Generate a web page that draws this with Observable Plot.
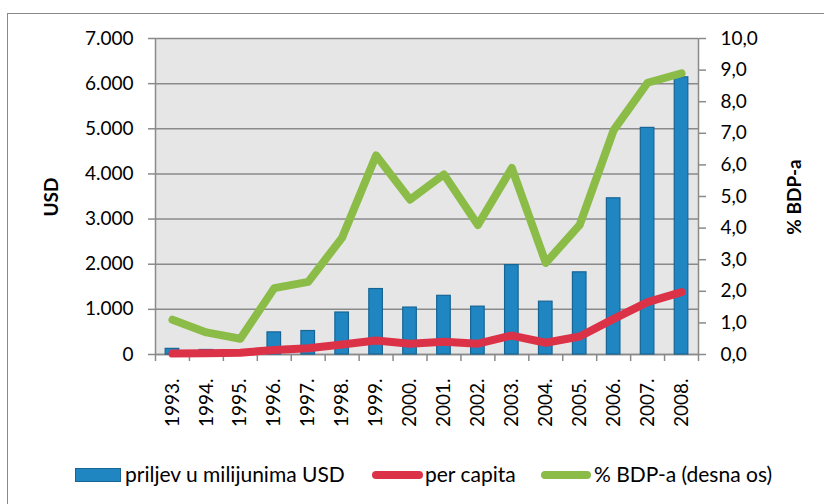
<!DOCTYPE html>
<html>
<head>
<meta charset="utf-8">
<script src="https://cdn.jsdelivr.net/npm/d3@7"></script>
<script src="https://cdn.jsdelivr.net/npm/@observablehq/plot@0.6"></script>
<style>
  html, body { margin: 0; padding: 0; background: #fff; overflow: hidden; }
  #wrap { position: relative; width: 824px; height: 504px; overflow: hidden; font-family: Lato, "Open Sans", sans-serif; color: #000; }
  #frame { position: absolute; left: 7px; top: 13px; width: 900px; height: 600px; border: 1.5px solid #8a8a8a; box-sizing: border-box; }
  #chart { position: absolute; left: 0; top: 0; }
  .ytitle { position: absolute; font-weight: bold; font-size: 19px; transform: translate(-50%, -50%) rotate(-90deg); white-space: nowrap; }
  .leg { position: absolute; font-size: 21px; white-space: nowrap; line-height: 1; }
</style>
</head>
<body>
<div id="wrap">
  <div id="frame"></div>
  <div id="chart"></div>
  <div class="ytitle" style="left:50px; top:197px;">USD</div>
  <div class="ytitle" style="left:793px; top:197px;">% BDP-a</div>
  <div id="legend"></div>
</div>
<script>
// ---- data ----
const years = [1993, 1994, 1995, 1996, 1997, 1998, 1999, 2000, 2001, 2002, 2003, 2004, 2005, 2006, 2007, 2008];
const inflow = [125, 100, 95, 490, 520, 930, 1450, 1040, 1300, 1060, 1980, 1170, 1820, 3460, 5020, 6140]; // priljev u milijunima USD
const perCapita = [20, 30, 40, 100, 140, 220, 310, 240, 280, 240, 420, 260, 400, 790, 1160, 1380];   // per capita (USD)
const pctGDP = [1.1, 0.7, 0.5, 2.1, 2.3, 3.7, 6.3, 4.9, 5.7, 4.1, 5.9, 2.9, 4.1, 7.1, 8.6, 8.9];        // % BDP-a (desna os)
const leftTicks = [0, 1000, 2000, 3000, 4000, 5000, 6000, 7000];
const rightTicks = [0, 1, 2, 3, 4, 5, 6, 7, 8, 9, 10];
const seriesNames = ["priljev u milijunima USD", "per capita", "% BDP-a (desna os)"];
const colors = {bar: "#1f86c1", barStroke: "#166595", red: "#dc3248", green: "#8bbc48"};

const data = years.map((y, i) => ({year: y, inflow: inflow[i], perCapita: perCapita[i], pct: pctGDP[i]}));
const k = 7000 / 10; // right axis scale factor (10,0 <-> 7.000)
const fmtLeft = d => d3.format(",")(d).replace(/,/g, ".");
const fmtRight = d => (d / k).toFixed(1).replace(".", ",");
const gridColor = "#8a8a8a";

const chart = Plot.plot({
  width: 824,
  height: 440,
  marginLeft: 155,
  marginRight: 126,
  marginTop: 38,
  marginBottom: 86,
  style: {fontFamily: "Lato, 'Open Sans', sans-serif", fontSize: "19px", color: "#000", background: "transparent"},
  x: {type: "linear", domain: [years[0] - 0.5, years[years.length - 1] + 0.5]},
  y: {domain: [0, 7000]},
  marks: [
    Plot.frame({fill: "#e6e6e6", stroke: "none"}),
    Plot.gridY(leftTicks, {stroke: gridColor, strokeOpacity: 1, strokeWidth: 1.5}),
    Plot.ruleX([years[0] - 0.5, years[years.length - 1] + 0.5], {stroke: gridColor, strokeWidth: 1.5}),
    Plot.ruleY([0], {stroke: gridColor, strokeWidth: 1.5}),
    Plot.axisY(leftTicks, {anchor: "left", tickFormat: fmtLeft, tickSize: 7, tickPadding: 15, stroke: gridColor, strokeWidth: 1.5, label: null}),
    Plot.axisY(rightTicks.map(d => d * k), {anchor: "right", tickFormat: fmtRight, tickSize: 7, tickPadding: 15, stroke: gridColor, strokeWidth: 1.5, label: null}),
    Plot.axisX(d3.range(years[0] - 0.5, years[years.length - 1] + 1, 1), {anchor: "bottom", tickSize: 7, tickFormat: () => "", stroke: gridColor, strokeWidth: 1.5, label: null}),
    Plot.axisX(years, {anchor: "bottom", tickSize: 0, tickPadding: 24, tickRotate: -90, tickFormat: d => d + ".", label: null}),
    Plot.rectY(data, {x1: d => d.year - 0.2, x2: d => d.year + 0.2, y: "inflow", fill: colors.bar, stroke: colors.barStroke, strokeWidth: 1.2}),
    Plot.lineY(data, {x: "year", y: "perCapita", stroke: colors.red, strokeWidth: 8, strokeLinecap: "round", strokeLinejoin: "round"}),
    Plot.lineY(data, {x: "year", y: d => d.pct * k, stroke: colors.green, strokeWidth: 8, strokeLinecap: "round", strokeLinejoin: "round"})
  ]
});
document.getElementById("chart").appendChild(chart);

// ---- legend ----
const legend = document.getElementById("legend");
const items = [
  {kind: "rect", x: 75, w: 46, tx: 125, label: seriesNames[0], color: colors.bar},
  {kind: "line", x: 372, w: 51, tx: 425, label: seriesNames[1], color: colors.red},
  {kind: "line", x: 541, w: 50, tx: 594, label: seriesNames[2], color: colors.green}
];
const cy = 475;
for (const it of items) {
  const sw = document.createElement("div");
  sw.style.position = "absolute";
  sw.style.left = it.x + "px";
  sw.style.width = it.w + "px";
  if (it.kind === "rect") {
    sw.style.top = (cy - 7) + "px";
    sw.style.height = "14px";
    sw.style.background = it.color;
    sw.style.border = "1px solid " + colors.barStroke;
    sw.style.boxSizing = "border-box";
  } else {
    sw.style.top = (cy - 4) + "px";
    sw.style.height = "8px";
    sw.style.borderRadius = "4px";
    sw.style.background = it.color;
  }
  legend.appendChild(sw);
  const t = document.createElement("div");
  t.className = "leg";
  t.style.left = it.tx + "px";
  t.style.top = (cy - 12) + "px";
  t.textContent = it.label;
  legend.appendChild(t);
}
</script>
</body>
</html>
